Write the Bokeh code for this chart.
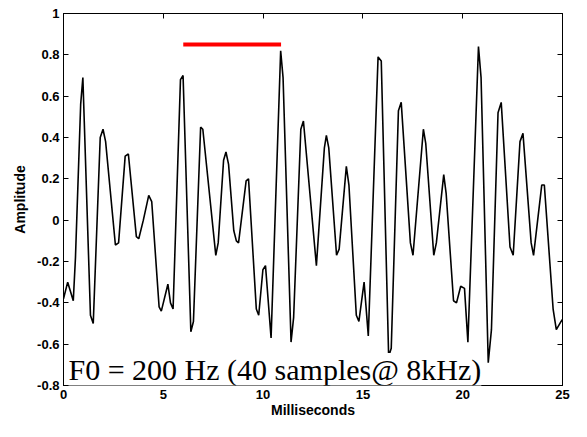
from bokeh.plotting import figure
from bokeh.models import Range1d, LinearAxis, FixedTicker, CustomJSTickFormatter, Label
from bokeh.embed import file_html
from bokeh.resources import INLINE

# waveform samples (time in ms, amplitude)
time_ms = [0.00, 0.21, 0.49, 0.60, 0.86, 0.97, 1.35, 1.49, 1.84, 1.98, 2.11, 2.60, 2.76,
           3.09, 3.25, 3.65, 3.77, 4.00, 4.27, 4.42, 4.79, 4.90, 5.23, 5.36, 5.49, 5.86,
           5.99, 6.38, 6.51, 6.87, 6.98, 7.63, 7.75, 8.02, 8.14, 8.27, 8.53, 8.66, 8.77,
           9.15, 9.27, 9.66, 9.78, 9.99, 10.12, 10.40, 10.88, 11.00, 11.40, 11.53, 11.89,
           12.02, 12.67, 13.07, 13.17, 13.29, 13.68, 13.81, 14.17, 14.30, 14.67, 14.80,
           15.06, 15.27, 15.76, 15.92, 16.29, 16.42, 16.78, 16.92, 17.38, 17.51, 18.03,
           18.15, 18.55, 18.68, 19.05, 19.17, 19.54, 19.69, 19.90, 20.09, 20.26, 20.79,
           20.92, 21.28, 21.44, 21.77, 21.93, 22.37, 22.53, 22.87, 23.02, 23.43, 23.55,
           23.96, 24.09, 24.53, 24.69, 24.93, 25.00]
amplitude = [-0.38, -0.30, -0.39, -0.18, 0.56, 0.69, -0.46, -0.50, 0.40, 0.44, 0.38, -0.12, -0.11,
             0.31, 0.32, -0.08, -0.09, 0.00, 0.12, 0.09, -0.42, -0.44, -0.31, -0.40, -0.43, 0.68,
             0.70, -0.54, -0.49, 0.45, 0.44, -0.17, -0.11, 0.29, 0.33, 0.27, -0.05, -0.10, -0.11,
             0.19, 0.20, -0.43, -0.46, -0.24, -0.22, -0.57, 0.82, 0.69, -0.59, -0.47, 0.44,
             0.48, -0.22, 0.35, 0.41, 0.35, -0.17, -0.14, 0.26, 0.17, -0.46, -0.49,
             -0.30, -0.56, 0.79, 0.77, -0.66, -0.62, 0.53, 0.57, -0.11, -0.17, 0.44,
             0.37, -0.17, -0.11, 0.22, 0.13, -0.39, -0.40, -0.32, -0.33, -0.59, 0.84,
             0.69, -0.69, -0.53, 0.52, 0.57, -0.13, -0.17, 0.38, 0.42, -0.11, -0.17,
             0.17, 0.17, -0.43, -0.53, -0.49, -0.48]

# one pitch period marker
period_x = [6.0, 10.9]
period_y = [0.85, 0.85]

x_ticks = [0, 5, 10, 15, 20, 25]
y_ticks = [-0.8, -0.6, -0.4, -0.2, 0, 0.2, 0.4, 0.6, 0.8, 1]
annotation = "F0 = 200 Hz (40 samples@ 8kHz)"

FONT = "Liberation Sans"

p = figure(width=571, height=421, x_range=Range1d(0, 25), y_range=Range1d(-0.8, 1),
           output_backend="svg", toolbar_location=None,
           min_border_left=63, min_border_right=9, min_border_top=13, min_border_bottom=36)
p.xgrid.visible = False
p.ygrid.visible = False
p.outline_line_color = "black"
p.outline_line_width = 1
p.outline_line_alpha = 1
p.background_fill_color = "white"
p.border_fill_color = "white"

fmt = CustomJSTickFormatter(code="""
    if (Math.abs(tick) < 1e-9) return "0";
    return String(Math.round(tick * 10) / 10);
""")

for ax, ticks in ((p.xaxis[0], x_ticks), (p.yaxis[0], y_ticks)):
    ax.ticker = FixedTicker(ticks=ticks)
    ax.formatter = fmt
    ax.major_tick_in = 5
    ax.major_tick_out = 0
    ax.minor_tick_line_color = None
    ax.axis_line_color = "black"
    ax.major_tick_line_color = "black"
    ax.major_label_text_font = FONT
    ax.major_label_text_font_style = "bold"
    ax.major_label_text_font_size = "13px"
    ax.major_label_text_color = "black"
    ax.axis_label_text_font = FONT
    ax.axis_label_text_font_style = "bold"
    ax.axis_label_text_font_size = "14px"
    ax.axis_label_text_color = "black"

p.xaxis.axis_label = "Milliseconds"
p.yaxis.axis_label = "Amplitude"
p.xaxis.major_label_standoff = 4
p.xaxis.axis_label_standoff = 0
p.yaxis.major_label_standoff = 4
p.yaxis.axis_label_standoff = 6

# mirrored tick marks on top and right (box style), no labels drawn
top = LinearAxis(ticker=FixedTicker(ticks=x_ticks), major_label_text_font_size="1px",
                 major_label_text_color=None,
                 major_label_standoff=0, major_tick_in=5, major_tick_out=0,
                 minor_tick_line_color=None, axis_line_color="black")
right = LinearAxis(ticker=FixedTicker(ticks=y_ticks), major_label_text_font_size="1px",
                   major_label_text_color=None,
                   major_label_standoff=0, major_tick_in=5, major_tick_out=0,
                   minor_tick_line_color=None, axis_line_color="black")
p.add_layout(top, "above")
p.add_layout(right, "right")

p.line(time_ms, amplitude, line_color="black", line_width=1.6)
p.line(period_x, period_y, line_color="#ff0000", line_width=4)

lbl = Label(x=0, y=-0.8, x_offset=5, y_offset=16, text=annotation,
            text_font="Liberation Serif", text_font_size="30px", text_color="black",
            text_baseline="alphabetic", background_fill_color="white",
            background_fill_alpha=1.0)
p.add_layout(lbl)

open("out.html", "w").write(file_html(p, INLINE))
